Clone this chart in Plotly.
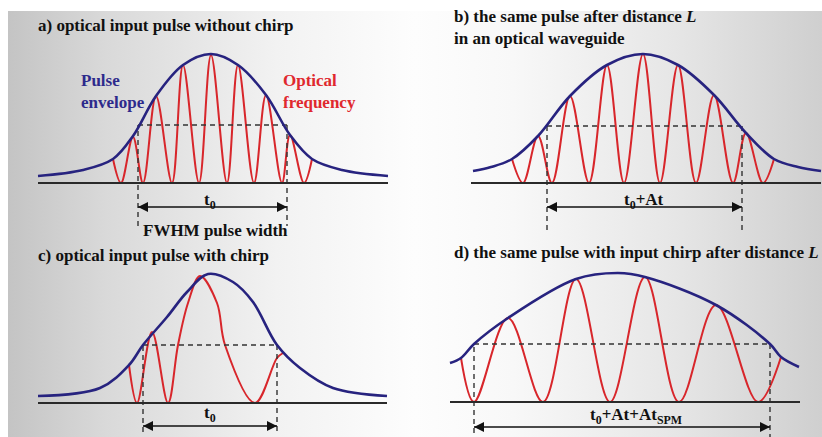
import base64
import plotly.graph_objects as go

W, H = 822, 437

# ---------------- data (time offset from pulse centre, amplitude above baseline) ----------------
# a) optical input pulse without chirp
a_env_t = [-173, -128, -98, -78, -55, -28, 0, 27, 55, 79, 101, 131, 177]
a_env_amp = [7, 13, 24, 47, 87, 118, 129, 118, 88, 48, 24, 13, 7]
a_wave_t = [-98, -90, -78, -68, -55, -39, -28, -12, 0, 16, 27, 43, 55, 71, 79, 93, 101]
a_wave_amp = [24, 0, 46, 0, 87, 0, 118, 0, 128, 0, 118, 0, 88, 0, 48, 0, 24]
a_base = [-173, 177]
a_fwhm = [-73, 76]
a_half = 58
a_label = "t<sub>0</sub>"

# b) the same pulse after distance L
b_env_t = [-170, -152, -131, -105, -73, -36, 0, 35, 71, 103, 131, 155, 178]
b_env_amp = [12, 16, 24, 47, 87, 118, 129, 118, 88, 50, 24, 16, 12]
b_wave_t = [-131, -120, -105, -91, -73, -54, -36, -19, 0, 17, 35, 53, 71, 90, 103, 120, 131]
b_wave_amp = [24, 0, 47, 0, 87, 0, 118, 0, 129, 0, 118, 0, 88, 0, 50, 0, 24]
b_base = [-172, 178]
b_fwhm = [-96, 99]
b_half = 57
b_label = "t<sub>0</sub>+At"

# c) optical input pulse with chirp
c_env_t = [-170, -108, -79, -65, -41, -21, 0, 25, 45, 69, 92, 125, 179]
c_env_amp = [7, 15, 38, 58, 86, 111, 129, 121, 101, 58, 35, 15, 7]
c_wave_t = [-79, -71, -56, -40, -30, -20, -8, 9, 17, 47, 69, 75]
c_wave_amp = [38, 0, 71, 0, 58, 100, 127, 100, 58, 0, 45, 50]
c_base = [-170, 179]
c_fwhm = [-65, 69]
c_half = 58
c_label = "t<sub>0</sub>"

# d) the same pulse with input chirp after distance L
d_env_t = [-168, -157, -144, -110, -42, 0, 27, 98, 152, 163, 181]
d_env_amp = [39, 44, 58, 84, 123, 129, 125, 97, 58, 45, 35]
d_wave_t = [-157, -144, -110, -75, -42, -8, 27, 61, 98, 140, 163]
d_wave_amp = [44, 0, 84, 0, 123, 0, 125, 0, 97, 0, 45]
d_base = [-168, 182]
d_fwhm = [-144, 152]
d_half = 58
d_label = "t<sub>0</sub>+At+At<sub>SPM</sub>"

titles = [
    "<b>a) optical input pulse without chirp</b>",
    "<b>b) the same pulse after distance <i>L</i><br>in an optical waveguide</b>",
    "<b>c) optical input pulse with chirp</b>",
    "<b>d) the same pulse with input chirp after distance <i>L</i></b>",
]

# ---------------- styling / layout ----------------
NAVY = "#27237f"
RED = "#d8262b"
FONT = "Liberation Serif, Times New Roman, serif"

# panel placement: pulse centre pixel x, baseline pixel y, dashed drop depth, arrow depth, label position
panels = [
    dict(env=(a_env_t, a_env_amp), wave=(a_wave_t, a_wave_amp), base=a_base, fwhm=a_fwhm, half=a_half,
         label=a_label, cx=211, by=183, drop=-43, arrow=-24, lab=(-1, -18)),
    dict(env=(b_env_t, b_env_amp), wave=(b_wave_t, b_wave_amp), base=b_base, fwhm=b_fwhm, half=b_half,
         label=b_label, cx=643, by=183, drop=-47, arrow=-24, lab=(1, -18)),
    dict(env=(c_env_t, c_env_amp), wave=(c_wave_t, c_wave_amp), base=c_base, fwhm=c_fwhm, half=c_half,
         label=c_label, cx=208, by=403, drop=-29, arrow=-23, lab=(2, -11)),
    dict(env=(d_env_t, d_env_amp), wave=(d_wave_t, d_wave_amp), base=d_base, fwhm=d_fwhm, half=d_half,
         label=d_label, cx=618, by=402, drop=-40, arrow=-25, lab=(18, -14)),
]

fig = go.Figure()
annotations = []
layout_axes = {}

for i, p in enumerate(panels, start=1):
    sx = "" if i == 1 else str(i)
    xr, yr = "x" + sx, "y" + sx
    layout_axes["xaxis" + sx] = dict(domain=[0, 1], range=[-p["cx"], W - p["cx"]], visible=False,
                                     fixedrange=True, anchor=yr)
    layout_axes["yaxis" + sx] = dict(domain=[0, 1], range=[p["by"] - H, p["by"]], visible=False,
                                     fixedrange=True, anchor=xr)
    common = dict(xaxis=xr, yaxis=yr, hoverinfo="skip", showlegend=False)
    # carrier oscillation
    fig.add_trace(go.Scatter(x=p["wave"][0], y=p["wave"][1], mode="lines",
                             line=dict(color=RED, width=2, shape="spline", smoothing=1.0), **common))
    # FWHM dashed box
    f0, f1 = p["fwhm"]
    fig.add_trace(go.Scatter(x=[f0, f0, None, f0, f1, None, f1, f1],
                             y=[p["drop"], p["half"], None, p["half"], p["half"], None, p["half"], p["drop"]],
                             mode="lines", line=dict(color="#333333", width=1.4, dash="5px,4px"), **common))
    # envelope
    fig.add_trace(go.Scatter(x=p["env"][0], y=p["env"][1], mode="lines",
                             line=dict(color=NAVY, width=2.6, shape="spline", smoothing=1.0), **common))
    # baseline
    fig.add_trace(go.Scatter(x=p["base"], y=[0, 0], mode="lines",
                             line=dict(color="#2a2a2a", width=2.2), **common))
    # double-headed width arrow
    fig.add_trace(go.Scatter(x=[f0, f1], y=[p["arrow"], p["arrow"]], mode="lines+markers",
                             line=dict(color="#111111", width=1.6),
                             marker=dict(symbol=["arrow-left", "arrow-right"], size=10,
                                         color="#111111", line=dict(width=0)),
                             **common))
    # width label
    annotations.append(dict(x=p["lab"][0], y=p["lab"][1], xref=xr, yref=yr, text="<b>" + p["label"] + "</b>",
                            showarrow=False, xanchor="center", yanchor="middle",
                            font=dict(family=FONT, size=17, color="#111111")))


def px(x):
    return x / W


def py(y):
    return 1 - y / H


title_pos = [(36, 25), (452, 27), (36, 255), (452, 252)]
for t, (x, y) in zip(titles, title_pos):
    annotations.append(dict(x=px(x), y=py(y), xref="paper", yref="paper", text=t, showarrow=False,
                            xanchor="left", yanchor="middle", align="left",
                            font=dict(family=FONT, size=17, color="#111111")))

annotations += [
    dict(x=px(79), y=py(91), xref="paper", yref="paper", text="<b>Pulse<br>envelope</b>",
         showarrow=False, xanchor="left", yanchor="middle", align="left",
         font=dict(family=FONT, size=17, color="#2d2a8c")),
    dict(x=px(281), y=py(91), xref="paper", yref="paper", text="<b>Optical<br>frequency</b>",
         showarrow=False, xanchor="left", yanchor="middle", align="left",
         font=dict(family=FONT, size=17, color="#e0282e")),
    dict(x=px(215), y=py(231), xref="paper", yref="paper", text="<b>FWHM pulse width</b>",
         showarrow=False, xanchor="center", yanchor="middle",
         font=dict(family=FONT, size=17, color="#111111")),
]

# soft grey background gradient
svg = (
    '<svg xmlns="http://www.w3.org/2000/svg" width="814" height="426" preserveAspectRatio="none">'
    '<defs><linearGradient id="g" x1="0" y1="0" x2="1" y2="0">'
    '<stop offset="0" stop-color="#c4c4c4"/>'
    '<stop offset="0.12" stop-color="#d9d9d9"/>'
    '<stop offset="0.33" stop-color="#f2f2f2"/>'
    '<stop offset="0.5" stop-color="#fdfdfd"/>'
    '<stop offset="0.62" stop-color="#f8f8f8"/>'
    '<stop offset="0.82" stop-color="#e6e6e6"/>'
    '<stop offset="1" stop-color="#cfcfcf"/>'
    '</linearGradient></defs><rect width="100%" height="100%" fill="url(#g)"/></svg>'
)
src = "data:image/svg+xml;base64," + base64.b64encode(svg.encode()).decode()

fig.update_layout(
    width=W, height=H, margin=dict(l=0, r=0, t=0, b=0),
    paper_bgcolor="white", plot_bgcolor="rgba(0,0,0,0)",
    showlegend=False, annotations=annotations,
    images=[dict(source=src, xref="paper", yref="paper", x=px(8), y=py(11),
                 sizex=814 / W, sizey=426 / H, xanchor="left", yanchor="top",
                 sizing="stretch", layer="below")],
    **layout_axes,
)

fig.write_html("out.html")
